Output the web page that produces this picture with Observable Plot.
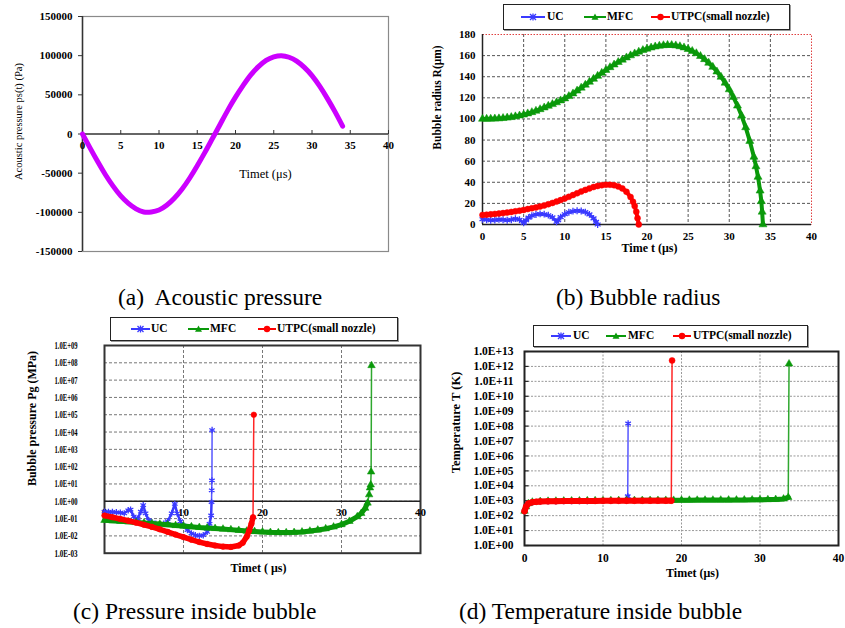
<!DOCTYPE html>
<html>
<head>
<meta charset="utf-8">
<script src="https://cdn.jsdelivr.net/npm/d3@7"></script>
<script src="https://cdn.jsdelivr.net/npm/@observablehq/plot@0.6"></script>
<style>
  body { margin: 0; background: #fff; }
  #root { position: relative; width: 845px; height: 628px; overflow: hidden; background: #fff;
          font-family: "Liberation Serif", "DejaVu Serif", serif; color: #000; }
  .cap { position: absolute; font-size: 23.5px; line-height: 24px; white-space: pre; }
  .legend { position: absolute; box-sizing: border-box; border: 1.5px solid #222; box-shadow: 1px 1px 0 #999;
            background: #fff; font-weight: bold; font-size: 11.5px; }
  .legend .it { position: absolute; top: 0; white-space: nowrap; }
</style>
</head>
<body>
<div id="root"></div>
<script>
// ---------------- DATA ----------------
// (a) acoustic pressure ps(t) in Pa, time in µs
const acousticTime = [0,1,2,3,4,5,6,7,8,9,10,11,12,13,14,15,16,17,18,19,20,21,22,23,24,25,26,27,28,29,30,31,32,33,34];
const acousticPressure = [0,-18000,-35500,-52000,-66500,-79000,-88500,-95500,-99500,-99500,-97000,-91000,-82000,-70500,-56500,-40500,-23500,-5500,12500,30500,47000,62000,75500,86000,94000,98500,100000,98000,93000,85000,74500,61000,45500,28500,10000];
const aYTicks = [150000,100000,50000,0,-50000,-100000,-150000];
const aXTicks = [0,5,10,15,20,25,30,35,40];

// (b) bubble radius R (µm) : [time µs, radius]
const radiusUC = [[0,5],[0.5,4.5],[1,4],[1.5,4.2],[2,4.8],[2.5,4.5],[3,4],[3.5,4.5],[4,5.5],[4.5,4.5],[5,1.5],[5.3,4],[5.6,6.5],[6,8.3],[6.5,9.5],[7,10],[7.5,9.8],[8,8.8],[8.5,6.8],[9,2.5],[9.2,4],[9.5,7],[10,9.8],[10.5,11.6],[11,12.6],[11.5,13],[12,12.8],[12.5,11.8],[13,9.6],[13.5,5.8],[13.8,2.5],[14,0]];
const radiusMFC = [[0,100],[0.5,100],[1,100.1],[1.5,100.2],[2,100.4],[2.5,100.7],[3,101.1],[3.5,101.6],[4,102.3],[4.5,103.1],[5,104],[5.5,105.1],[6,106.3],[6.5,107.6],[7,109.1],[7.5,110.7],[8,112.3],[8.5,113.9],[9,115.6],[9.5,117.4],[10,119.3],[10.5,121.5],[11,124],[11.5,126.7],[12,129.5],[12.5,132.3],[13,135.1],[13.5,137.9],[14,140.7],[14.5,143.5],[15,146.3],[15.5,148.9],[16,151.4],[16.5,153.8],[17,156],[17.5,158.1],[18,160.1],[18.5,161.9],[19,163.6],[19.5,165.1],[20,166.4],[20.5,167.5],[21,168.5],[21.5,169.2],[22,169.7],[22.5,170],[23,169.9],[23.5,169.5],[24,168.7],[24.5,167.6],[25,166.1],[25.5,164.3],[26,162.1],[26.5,159.5],[27,156.5],[27.5,153.1],[28,149.2],[28.5,144.8],[29,139.8],[29.5,134.2],[30,127.9],[30.5,120.7],[31,112.5],[31.5,103],[32,92],[32.5,79],[33,64],[33.25,55],[33.5,45],[33.75,32],[33.9,22],[34,12],[34.1,0]];
const radiusUTPC = [[0,9],[0.5,9.3],[1,9.6],[1.5,10],[2,10.4],[2.5,10.8],[3,11.3],[3.5,11.9],[4,12.5],[4.5,13.1],[5,13.8],[5.5,14.6],[6,15.4],[6.5,16.2],[7,17.1],[7.5,18],[8,19.2],[8.5,20.4],[9,21.7],[9.5,23.1],[10,24.6],[10.5,26.2],[11,27.9],[11.5,29.6],[12,31.2],[12.5,32.8],[13,34.2],[13.5,35.5],[14,36.5],[14.5,37.2],[15,37.6],[15.5,37.6],[16,37.2],[16.5,36.1],[17,34.2],[17.5,31],[18,26],[18.3,21.5],[18.5,17.5],[18.7,12],[18.85,6],[19,0]];
const bYTicks = [0,20,40,60,80,100,120,140,160,180];
const bXTicks = [0,5,10,15,20,25,30,35,40];

// (c) bubble pressure Pg (MPa) : [time µs, pressure]
const pressureUC = [[0,0.25],[0.5,0.24],[1,0.24],[1.5,0.23],[2,0.22],[2.5,0.2],[3,0.3],[3.3,0.33],[3.7,0.13],[4.2,0.1],[4.6,0.25],[4.9,0.6],[5.2,0.2],[5.6,0.08],[6,0.06],[6.5,0.05],[7,0.045],[7.5,0.05],[8,0.07],[8.5,0.2],[8.9,0.7],[9.2,0.2],[9.6,0.07],[10,0.04],[10.5,0.022],[11,0.014],[11.5,0.011],[12,0.01],[12.5,0.011],[13,0.017],[13.3,0.05],[13.5,0.15],[13.55,0.9],[13.57,4.3],[13.6,16],[13.62,13000]];
const pressureMFC = [[0,0.08],[1,0.075],[2,0.07],[3,0.065],[4,0.06],[5,0.056],[6,0.052],[7,0.048],[8,0.044],[9,0.04],[10,0.037],[11,0.034],[12,0.031],[13,0.029],[14,0.027],[15,0.025],[16,0.023],[17,0.021],[18,0.019],[19,0.018],[20,0.017],[21,0.016],[22,0.0155],[23,0.0155],[24,0.016],[25,0.017],[26,0.019],[27,0.022],[28,0.026],[29,0.033],[30,0.045],[31,0.07],[32,0.13],[32.5,0.2],[33,0.4],[33.3,0.8],[33.5,2.4],[33.6,6],[33.7,9],[33.75,50],[33.8,70000000]];
const pressureUTPC = [[0,0.15],[1,0.12],[2,0.095],[3,0.075],[4,0.058],[5,0.044],[6,0.033],[7,0.024],[8,0.017],[9,0.012],[10,0.0085],[11,0.006],[12,0.0044],[13,0.0034],[14,0.0028],[15,0.0024],[16,0.0023],[17,0.0028],[17.5,0.004],[18,0.009],[18.3,0.02],[18.6,0.05],[18.8,0.12],[18.9,100000]];
const cYTicks = [1e9,1e8,1e7,1e6,1e5,1e4,1e3,1e2,1e1,1e0,1e-1,1e-2,1e-3];
const cYLabels = ["1.0E+09","1.0E+08","1.0E+07","1.0E+06","1.0E+05","1.0E+04","1.0E+03","1.0E+02","1.0E+01","1.0E+00","1.0E-01","1.0E-02","1.0E-03"];
const cXTicks = [0,10,20,30,40];

// (d) temperature T (K) : [time µs, temperature]
const tempUC = [[0,200],[0.2,400],[0.5,650],[1,800],[2,870],[3,900],[4,920],[5,940],[6,950],[7,960],[8,970],[9,980],[10,990],[11,1000],[12,1010],[13,1020],[13.15,2000],[13.2,150000000]];
const tempMFC = [[0,200],[0.2,400],[0.5,650],[1,820],[2,900],[3,940],[4,960],[5,975],[6,990],[7,1000],[8,1010],[9,1020],[10,1030],[11,1035],[12,1040],[13,1045],[14,1050],[15,1060],[16,1065],[17,1070],[18,1075],[19,1080],[20,1090],[21,1095],[22,1100],[23,1105],[24,1110],[25,1120],[26,1125],[27,1130],[28,1140],[29,1150],[30,1170],[31,1190],[32,1230],[33,1320],[33.6,1700],[33.7,1500000000000]];
const tempUTPC = [[0,200],[0.2,400],[0.5,650],[1,800],[1.5,850],[2,880],[3,910],[4,930],[5,945],[6,955],[7,965],[8,970],[9,975],[10,980],[11,985],[12,990],[13,995],[14,1000],[15,1000],[16,1005],[17,1005],[18,1010],[18.7,1010],[18.8,2500000000000]];
const dYTicks = [1e13,1e12,1e11,1e10,1e9,1e8,1e7,1e6,1e5,1e4,1e3,1e2,1e1,1e0];
const dYLabels = ["1.0E+13","1.0E+12","1.0E+11","1.0E+10","1.0E+09","1.0E+08","1.0E+07","1.0E+06","1.0E+05","1.0E+04","1.0E+03","1.0E+02","1.0E+01","1.0E+00"];
const dXTicks = [0,10,20,30,40];

const seriesNames = ["UC", "MFC", "UTPC(small nozzle)"];

// ---------------- STYLE ----------------
const FONT = '"Liberation Serif", "DejaVu Serif", serif';
const BLUE = "#3a3aff", GREEN = "#0a990a", RED = "#ff0000", MAGENTA = "#cc00ff";
const root = document.getElementById("root");
const baseStyle = size => ({fontFamily: FONT, fontSize: size, color: "#000", background: "transparent", overflow: "visible"});
const tickUp = {draw(ctx) { ctx.moveTo(0, 0); ctx.lineTo(0, -4); }};
const tickRight = {draw(ctx) { ctx.moveTo(0, 0); ctx.lineTo(4, 0); }};
const X = d => d[0], Y = d => d[1];

function place(node, left, top) {
  node.style.position = "absolute";
  node.style.left = left + "px";
  node.style.top = top + "px";
  root.appendChild(node);
}

function title(text, opts) {
  return Plot.text([text], {text: d => d, frameAnchor: "top-left", textAnchor: "middle", lineAnchor: "middle",
    fontWeight: "bold", fontSize: 12, ...opts});
}

// series with thick body + thin spike + markers
function seriesMarks(pairs, color, symbol, {thick, thin = 1.5, r, thr = Infinity}) {
  const k = pairs.findIndex(p => p[1] >= thr);
  const body = k < 0 ? pairs : pairs.slice(0, k);
  const spike = k < 0 ? [] : pairs.slice(k - 1);
  const out = [Plot.line(body, {x: X, y: Y, stroke: color, strokeWidth: thick, strokeLinejoin: "round"})];
  if (spike.length) out.push(Plot.line(spike, {x: X, y: Y, stroke: color, strokeWidth: thin, strokeOpacity: 0.85}));
  const filled = symbol !== "asterisk";
  out.push(Plot.dot(pairs, {x: X, y: Y, symbol, r, fill: filled ? color : "none", stroke: color, strokeWidth: filled ? 0.5 : 1.3}));
  return out;
}

function legend(left, top, width, height, items) {
  const div = document.createElement("div");
  div.className = "legend";
  Object.assign(div.style, {left: left + "px", top: top + "px", width: width + "px", height: height + "px"});
  const marker = (sym, color, cx) => sym === "x"
    ? `<path d="M${cx-3},2 L${cx+3},8 M${cx+3},2 L${cx-3},8 M${cx},1.5 L${cx},8.5" stroke="${color}" stroke-width="1.3"/>`
    : sym === "tri" ? `<path d="M${cx},1.5 L${cx+3.5},7.8 L${cx-3.5},7.8 Z" fill="${color}"/>`
    : `<circle cx="${cx}" cy="5" r="3.2" fill="${color}"/>`;
  for (const it of items) {
    const sw = document.createElement("div");
    sw.className = "it";
    sw.style.left = it.sx + "px";
    sw.style.top = (height / 2 - 6.5) + "px";
    sw.innerHTML = `<svg width="${it.sw}" height="10" style="display:block"><line x1="0" x2="${it.sw}" y1="5" y2="5" stroke="${it.color}" stroke-width="2"/>${marker(it.sym, it.color, it.sw / 2)}</svg>`;
    div.appendChild(sw);
    const tx = document.createElement("div");
    tx.className = "it";
    tx.style.left = it.tx + "px";
    tx.style.lineHeight = (height - 3) + "px";
    tx.textContent = it.label;
    div.appendChild(tx);
  }
  root.appendChild(div);
}

function caption(text, left, top) {
  const d = document.createElement("div");
  d.className = "cap";
  d.textContent = text;
  d.style.left = left + "px";
  d.style.top = top + "px";
  root.appendChild(d);
}

// ---------------- (a) ----------------
const acoustic = acousticTime.map((t, i) => [t, acousticPressure[i]]);
const plotA = Plot.plot({
  width: 400, height: 270,
  marginLeft: 82, marginRight: 12, marginTop: 16, marginBottom: 19,
  style: baseStyle("11px"),
  x: {domain: [0, 40], axis: null},
  y: {domain: [-150000, 150000]},
  marks: [
    Plot.frame({stroke: "#8a8a8a", strokeWidth: 1.2}),
    Plot.axisY(aYTicks, {tickSize: 4, tickPadding: 6, tickFormat: d => String(d), fontWeight: "bold", label: null, stroke: "#333"}),
    Plot.ruleX([0], {stroke: "#333", strokeWidth: 1.5}),
    Plot.ruleY([0], {stroke: "#333", strokeWidth: 1.5}),
    Plot.dot(aXTicks.filter(d => d > 0), {x: d => d, y: 0, symbol: tickUp, fill: "none", stroke: "#333", strokeWidth: 1}),
    Plot.text(aXTicks, {x: d => d, y: 0, dy: 11, text: d => String(d), fontWeight: "bold"}),
    Plot.line(acoustic, {x: X, y: Y, stroke: MAGENTA, strokeWidth: 5, strokeLinecap: "round", curve: "natural"}),
    title("Timet (μs)", {dx: 183, dy: 157, fontWeight: "normal", fontSize: 12.5}),
    title("Acoustic pressure ps(t) (Pa)", {dx: -64, dy: 105, rotate: -90, fontWeight: "normal", fontSize: 10.5})
  ]
});
place(plotA, 0, 0);

// ---------------- (b) ----------------
const plotB = Plot.plot({
  width: 425, height: 270,
  marginLeft: 62, marginRight: 34, marginTop: 34, marginBottom: 46,
  style: baseStyle("11px"),
  x: {domain: [0, 40]},
  y: {domain: [0, 180]},
  marks: [
    Plot.gridY(bYTicks.filter(d => d > 0 && d < 180), {stroke: "#555", strokeOpacity: 1, strokeDasharray: "3,2"}),
    Plot.gridX(bXTicks.filter(d => d > 0 && d < 40), {stroke: "#555", strokeOpacity: 1, strokeDasharray: "3,2"}),
    Plot.frame({stroke: "#e04040", strokeDasharray: "1.5,1.5", strokeWidth: 1}),
    Plot.ruleX([0], {stroke: "#222", strokeWidth: 1.5}),
    Plot.ruleY([0], {stroke: "#222", strokeWidth: 1.5}),
    Plot.axisY(bYTicks, {tickSize: 0, tickPadding: 7, fontWeight: "bold", label: null}),
    Plot.axisX(bXTicks, {tickSize: 0, tickPadding: 8, fontWeight: "bold", label: null}),
    ...seriesMarks(radiusMFC, GREEN, "triangle", {thick: 4, r: 3}),
    ...seriesMarks(radiusUC, BLUE, "asterisk", {thick: 3, r: 3.2}),
    ...seriesMarks(radiusUTPC, RED, "circle", {thick: 4, r: 3}),
    title("Time t (μs)", {dx: 167, dy: 214}),
    title("Bubble radius R(μm)", {dx: -45, dy: 63, rotate: -90, fontSize: 11.5})
  ]
});
place(plotB, 420, 0);
legend(503, 4, 287, 26, [
  {label: seriesNames[0], color: BLUE, sym: "x", sx: 17, sw: 24, tx: 43},
  {label: seriesNames[1], color: GREEN, sym: "tri", sx: 80, sw: 22, tx: 103},
  {label: seriesNames[2], color: RED, sym: "o", sx: 147, sw: 19, tx: 167}
]);

// ---------------- (c) ----------------
const plotC = Plot.plot({
  width: 430, height: 270,
  marginLeft: 104, marginRight: 10, marginTop: 35, marginBottom: 27.3,
  style: baseStyle("11px"),
  x: {domain: [0, 40], axis: null},
  y: {type: "log", domain: [1e-3, 1e9]},
  marks: [
    Plot.gridY(cYTicks.filter(d => d > 1e-3 && d < 1e9), {stroke: "#777", strokeOpacity: 1, strokeDasharray: "3,2"}),
    Plot.gridX(cXTicks.filter(d => d > 0 && d < 40), {stroke: "#777", strokeOpacity: 1, strokeDasharray: "3,2"}),
    Plot.frame({stroke: "#333", strokeWidth: 2}),
    Plot.ruleY([1], {stroke: "#222", strokeWidth: 1.6}),
    Plot.axisY(cYTicks, {tickSize: 0, tickPadding: 27, fontWeight: "bold", fontSize: 11, label: null,
      tickFormat: d => cYLabels[cYTicks.indexOf(d)]}),
    Plot.text(cXTicks, {x: d => d, y: 1, dy: 11, text: d => String(d), fontWeight: "bold", fontSize: 11}),
    ...seriesMarks(pressureUC, BLUE, "asterisk", {thick: 2.5, r: 3, thr: 1}),
    ...seriesMarks(pressureMFC, GREEN, "triangle", {thick: 5, r: 2.8, thr: 1}),
    ...seriesMarks(pressureUTPC, RED, "circle", {thick: 5.5, r: 2.8, thr: 1}),
    title("Timet ( μs)", {dx: 154, dy: 223}),
    title("Bubble pressure Pg (MPa)", {dx: -72, dy: 73, rotate: -90, fontSize: 12})
  ]
});
plotC.querySelectorAll('[aria-label="y-axis tick label"] text').forEach(t => {
  t.setAttribute("textLength", "23");
  t.setAttribute("lengthAdjust", "spacingAndGlyphs");
});
place(plotC, 0, 310);
legend(110, 317, 288, 24, [
  {label: seriesNames[0], color: BLUE, sym: "x", sx: 20, sw: 19, tx: 40},
  {label: seriesNames[1], color: GREEN, sym: "tri", sx: 77, sw: 21, tx: 99},
  {label: seriesNames[2], color: RED, sym: "o", sx: 147, sw: 18, tx: 166}
]);

// ---------------- (d) ----------------
const plotD = Plot.plot({
  width: 425, height: 280,
  marginLeft: 104, marginRight: 7, marginTop: 41, marginBottom: 45,
  style: baseStyle("11.5px"),
  x: {domain: [0, 40]},
  y: {type: "log", domain: [1, 1e13]},
  marks: [
    Plot.gridY(dYTicks.filter(d => d > 1 && d < 1e13), {stroke: "#999", strokeOpacity: 1, strokeDasharray: "2,1.5"}),
    Plot.gridX(dXTicks.filter(d => d > 0 && d < 40), {stroke: "#999", strokeOpacity: 1, strokeDasharray: "2,1.5"}),
    Plot.frame({stroke: "#222", strokeWidth: 2}),
    Plot.dot(dYTicks, {x: 0, y: d => d, symbol: tickRight, fill: "none", stroke: "#222", strokeWidth: 1.2}),
    Plot.axisY(dYTicks, {tickSize: 0, tickPadding: 11, fontWeight: "bold", label: null,
      tickFormat: d => dYLabels[dYTicks.indexOf(d)]}),
    Plot.axisX(dXTicks, {tickSize: 0, tickPadding: 8, fontWeight: "bold", label: null}),
    ...seriesMarks(tempUC, BLUE, "asterisk", {thick: 4, r: 3, thr: 1e4}),
    ...seriesMarks(tempMFC, GREEN, "triangle", {thick: 5, r: 2.8, thr: 1e4}),
    ...seriesMarks(tempUTPC, RED, "circle", {thick: 6, r: 3, thr: 1e4}),
    title("Timet (μs)", {dx: 168, dy: 222}),
    title("Temperature T (K)", {dx: -69, dy: 71, rotate: -90, fontSize: 12.5})
  ]
});
place(plotD, 420, 310);
legend(533, 325, 275, 22, [
  {label: seriesNames[0], color: BLUE, sym: "x", sx: 17, sw: 20, tx: 39},
  {label: seriesNames[1], color: GREEN, sym: "tri", sx: 72, sw: 20, tx: 94},
  {label: seriesNames[2], color: RED, sym: "o", sx: 139, sw: 18, tx: 159}
]);

// ---------------- captions ----------------
caption("(a)  Acoustic pressure", 118, 285);
caption("(b) Bubble radius", 556, 285);
caption("(c) Pressure inside bubble", 73, 599);
caption("(d) Temperature inside bubble", 459, 599);
</script>
</body>
</html>
